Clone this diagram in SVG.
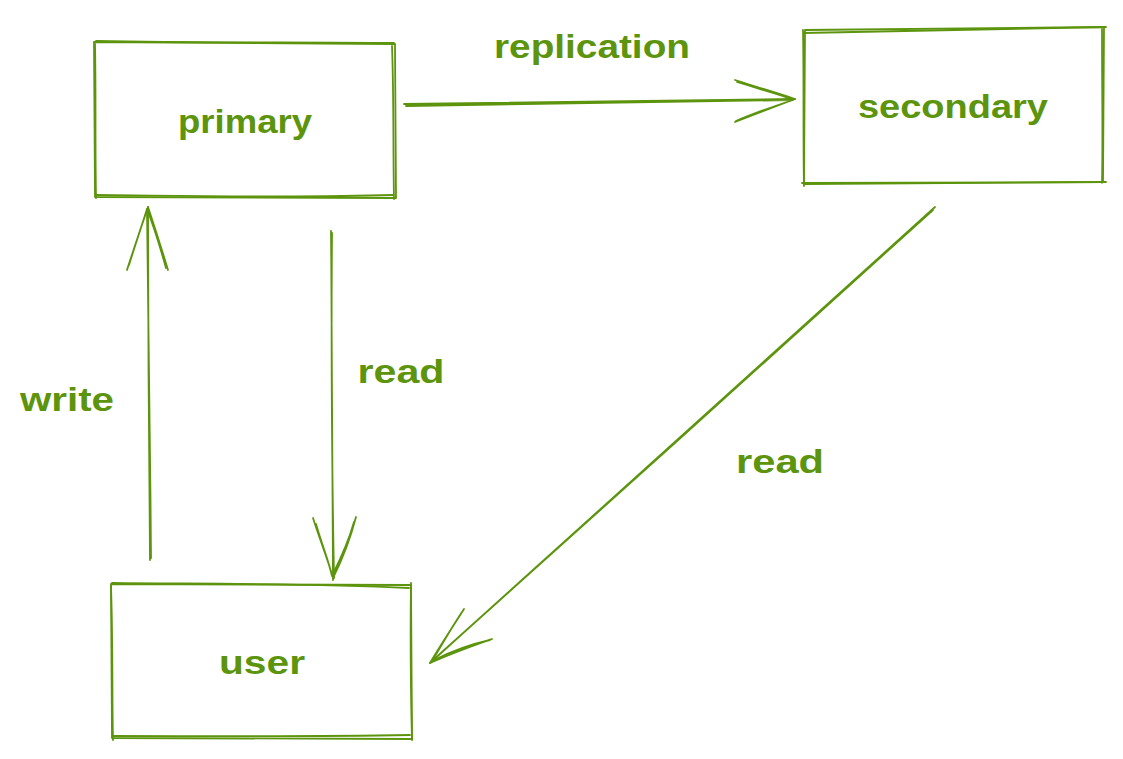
<svg xmlns="http://www.w3.org/2000/svg" width="1123" height="759" viewBox="0 0 1123 759">
<style>
.s{fill:none;stroke:#5c940d;stroke-width:1.8;stroke-linecap:round;stroke-linejoin:round}
.t{fill:#5c940d;font-family:"Liberation Sans","Noto Sans",sans-serif;font-size:34px;font-weight:bold}
</style>
<rect width="1123" height="759" fill="#ffffff"/>
<g id="primary">
<path class="s" d="M94 42 L395 44 L396 198 L95 197 Z"/>
<path class="s" d="M96 41 C200 43 300 42 394 43 M392 46 C394 100 393 150 394 199 M393 195 C300 198 200 196 97 195 M96 198 C95 140 96 90 95 44"/>
<text class="t" x="245" y="133" text-anchor="middle" textLength="134" lengthAdjust="spacingAndGlyphs">primary</text>
</g>
<g id="secondary">
<path class="s" d="M805 30 L1104 27 L1103 182 L804 184 Z"/>
<path class="s" d="M803 33 C900 31 1000 29 1106 27 M1102 29 C1102 90 1103 140 1102 183 M1106 182 C1000 183 900 182 802 183 M804 186 C803 140 804 80 803 30"/>
<text class="t" x="953" y="118" text-anchor="middle" textLength="190" lengthAdjust="spacingAndGlyphs">secondary</text>
</g>
<g id="user">
<path class="s" d="M111 584 L411 585 L412 739 L112 738 Z"/>
<path class="s" d="M112 583 C200 584 300 583 409 588 M411 583 C410 650 411 700 412 740 M410 735 C300 737 200 736 114 736 M113 740 C112 700 113 650 111 586"/>
<text class="t" x="262" y="674" text-anchor="middle" textLength="86" lengthAdjust="spacingAndGlyphs">user</text>
</g>
<g id="connectors">
<path class="s" d="M404 104 C550 102 680 100 795 99 M406 106 C560 103 690 101 793 100"/>
<path class="s" d="M735 80 C760 88 780 94 795 99 L735 122 M737 82 C762 90 782 95 793 100 C772 107 752 114 736 121"/>
<path class="s" d="M331 231 C332 350 333 470 333 580 M332 233 C331 350 332 470 334 578"/>
<path class="s" d="M313 518 C320 540 328 560 333 578 C342 560 350 540 356 517 M316 524 C322 545 329 562 332 576 C341 558 349 540 354 522"/>
<path class="s" d="M150 560 C149 450 148 320 148 207 M151 558 C150 440 149 320 147 209"/>
<path class="s" d="M127 270 C135 245 142 225 148 207 C154 225 162 250 168 270 M129 265 C136 242 143 222 147 209 C155 230 161 250 166 268"/>
<path class="s" d="M935 207 C770 357 600 510 430 663 M933 210 C768 360 598 512 432 661"/>
<path class="s" d="M464 609 C452 628 440 646 430 663 C455 652 475 645 492 639 M462 612 C450 630 440 648 432 661 C452 651 472 644 490 640"/>
<text class="t" x="592" y="58" text-anchor="middle" textLength="196" lengthAdjust="spacingAndGlyphs">replication</text>
<text class="t" x="401" y="383" text-anchor="middle" textLength="87" lengthAdjust="spacingAndGlyphs">read</text>
<text class="t" x="67" y="411" text-anchor="middle" textLength="94" lengthAdjust="spacingAndGlyphs">write</text>
<text class="t" x="780" y="473" text-anchor="middle" textLength="88" lengthAdjust="spacingAndGlyphs">read</text>
</g>
</svg>
